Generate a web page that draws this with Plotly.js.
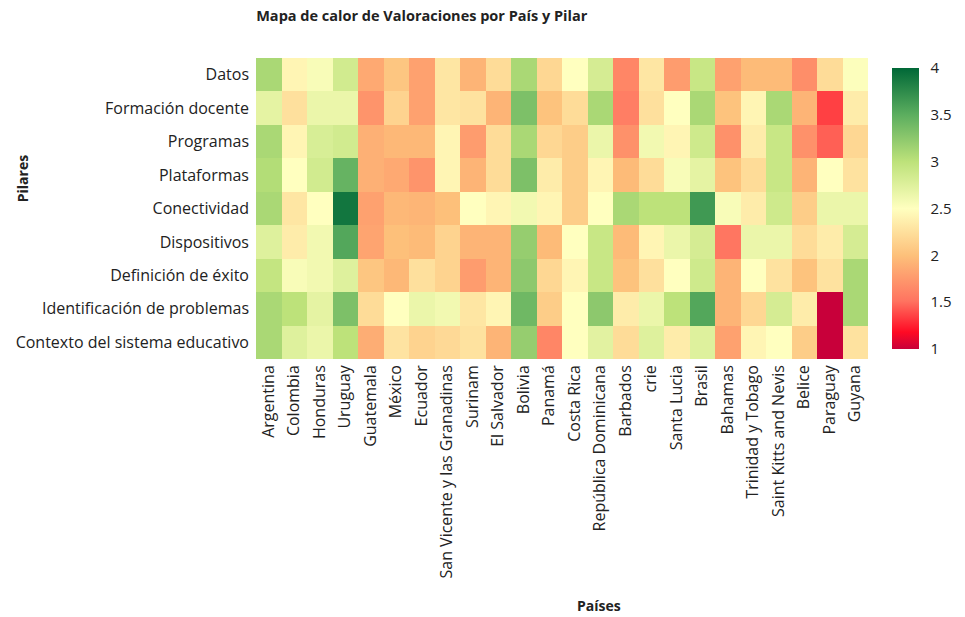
<!DOCTYPE html>
<html>
<head>
<meta charset="utf-8">
<script src="https://cdn.plot.ly/plotly-3.0.1.min.js"></script>
<style>html,body{margin:0;padding:0;background:#fff;}#chart{width:965px;height:617px;}</style>
</head>
<body>
<div id="chart"></div>
<script>
var countries = ["Argentina","Colombia","Honduras","Uruguay","Guatemala","México","Ecuador","San Vicente y las Granadinas","Surinam","El Salvador","Bolivia","Panamá","Costa Rica","República Dominicana","Barbados","crie","Santa Lucia","Brasil","Bahamas","Trinidad y Tobago","Saint Kitts and Nevis","Belice","Paraguay","Guyana"];
var pillars = ["Datos","Formación docente","Programas","Plataformas","Conectividad","Dispositivos","Definición de éxito","Identificación de problemas","Contexto del sistema educativo"];

// one array per pillar, values in country order
var datos          = [3.1, 2.42, 2.55, 2.85, 1.85, 2.05, 1.8, 2.3, 1.92, 2.22, 3.1, 2.18, 2.5, 2.82, 1.63, 2.3, 1.77, 2.92, 1.8, 1.97, 1.97, 1.68, 2.22, 2.52];
var formacion      = [2.7, 2.25, 2.65, 2.65, 1.72, 2.15, 1.8, 2.3, 2.27, 1.92, 3.33, 2.02, 2.22, 3.1, 1.58, 2.25, 2.5, 3.1, 2.02, 2.42, 3.1, 1.92, 1.35, 2.35];
var programas      = [3.1, 2.42, 2.8, 2.85, 1.9, 1.95, 1.95, 2.42, 1.77, 2.22, 3.1, 2.18, 2.1, 2.65, 1.7, 2.6, 2.42, 2.87, 1.7, 2.35, 2.92, 1.7, 1.45, 2.18];
var plataformas    = [3.05, 2.5, 2.85, 3.45, 1.9, 1.85, 1.72, 2.42, 1.92, 2.22, 3.33, 2.35, 2.1, 2.42, 1.97, 2.22, 2.55, 2.7, 2.02, 2.22, 2.92, 1.92, 2.5, 2.27];
var conectividad   = [3.1, 2.3, 2.5, 3.9, 1.8, 1.95, 1.93, 2.0, 2.5, 2.42, 2.6, 2.42, 2.1, 2.5, 3.1, 3.0, 3.0, 3.65, 2.55, 2.35, 2.87, 2.1, 2.65, 2.65];
var dispositivos   = [2.75, 2.35, 2.6, 3.55, 1.82, 2.0, 1.97, 2.15, 1.92, 1.92, 3.2, 1.97, 2.5, 2.92, 1.97, 2.42, 2.65, 2.82, 1.53, 2.65, 2.65, 2.22, 2.35, 2.82];
var definicion     = [2.95, 2.55, 2.6, 2.75, 2.05, 1.95, 2.25, 2.15, 1.77, 1.92, 3.25, 2.18, 2.42, 2.92, 2.02, 2.25, 2.5, 2.87, 1.92, 2.5, 2.27, 2.02, 2.27, 3.1];
var identificacion = [3.1, 3.0, 2.7, 3.33, 2.22, 2.5, 2.65, 2.6, 2.3, 2.42, 3.4, 2.1, 2.5, 3.25, 2.35, 2.65, 3.0, 3.55, 1.92, 2.18, 2.82, 2.35, 1.0, 3.1];
var contexto       = [3.1, 2.75, 2.65, 3.0, 1.88, 2.28, 2.15, 2.2, 2.27, 1.92, 3.2, 1.63, 2.5, 2.72, 2.22, 2.75, 2.35, 2.75, 1.8, 2.42, 2.5, 2.1, 1.0, 2.27];

var z = [datos, formacion, programas, plataformas, conectividad, dispositivos, definicion, identificacion, contexto];

var colorscale = [
  [0.0, '#c8003a'],
  [0.06, '#ff0a24'],
  [0.17, '#ff7360'],
  [0.333, '#fdc07a'],
  [0.5, '#ffffbf'],
  [0.667, '#bde27a'],
  [0.833, '#5cae5f'],
  [1.0, '#006837']
];

var fontFam = '"Open Sans", "Noto Sans", sans-serif';

var trace = {
  type: 'heatmap',
  x: countries,
  y: pillars,
  z: z,
  zmin: 1,
  zmax: 4,
  colorscale: colorscale,
  colorbar: {
    x: 1.04,
    xanchor: 'left',
    xpad: 0,
    thickness: 27,
    outlinewidth: 0,
    ticks: 'outside',
    ticklen: 9,
    tickcolor: 'rgba(0,0,0,0)',
    tickvals: [1, 1.5, 2, 2.5, 3, 3.5, 4],
    ticktext: ['1', '1.5', '2', '2.5', '3', '3.5', '4'],
    tickfont: {family: fontFam, size: 15, color: '#222'}
  }
};

var layout = {
  width: 965,
  height: 617,
  margin: {l: 256, r: 89, t: 58, b: 258},
  paper_bgcolor: '#fff',
  plot_bgcolor: '#fff',
  font: {family: fontFam, color: '#222'},
  title: {
    text: '<b>Mapa de calor de Valoraciones por País y Pilar</b>',
    x: 0.2655, xanchor: 'left', y: 0.974, yanchor: 'middle',
    font: {family: fontFam, size: 14.5, color: '#222'}
  },
  xaxis: {
    type: 'category',
    tickangle: -90,
    tickfont: {family: fontFam, size: 16, color: '#222'},
    ticklabelstandoff: 2,
    showgrid: false, zeroline: false, ticks: '', automargin: false
  },
  yaxis: {
    type: 'category',
    autorange: 'reversed',
    tickfont: {family: fontFam, size: 16, color: '#222'},
    ticklabelstandoff: 6,
    showgrid: false, zeroline: false, ticks: '', automargin: false
  },
  annotations: [
    {text: '<b>Pilares</b>', xref: 'paper', yref: 'paper', x: -0.381, y: 0.6,
     xanchor: 'center', yanchor: 'middle', textangle: -90,
     showarrow: false, font: {family: fontFam, size: 14, color: '#222'}},
    {text: '<b>Países</b>', xref: 'paper', yref: 'paper', x: 0.56, y: -0.82,
     xanchor: 'center', yanchor: 'middle',
     showarrow: false, font: {family: fontFam, size: 14, color: '#222'}}
  ]
};

Plotly.newPlot('chart', [trace], layout, {displayModeBar: false, responsive: false});
</script>
</body>
</html>
